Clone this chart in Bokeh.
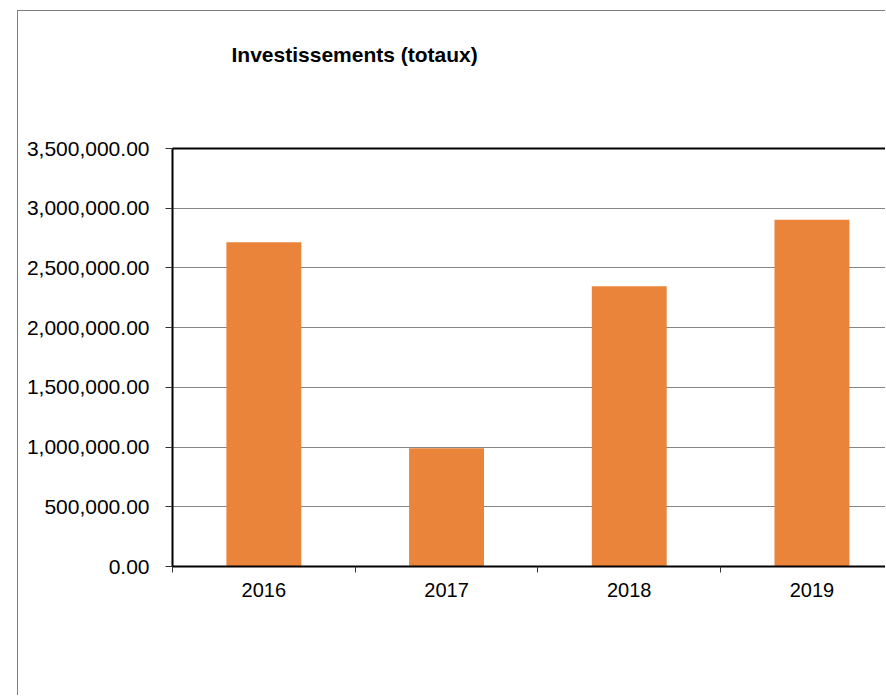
from bokeh.plotting import figure
from bokeh.models import Range1d, FixedTicker, NumeralTickFormatter, LinearAxis
from bokeh.embed import file_html
from bokeh.resources import INLINE

# ---- data ----
title_text = "Investissements (totaux)"
years = ["2016", "2017", "2018", "2019"]
totals = [2715000, 990000, 2347000, 2903000]
y_ticks = [0, 500000, 1000000, 1500000, 2000000, 2500000, 3000000, 3500000]

centers = [i + 0.5 for i in range(len(years))]
bounds = list(range(len(years) + 1))

W, H = 868, 685
p = figure(width=W, height=H, output_backend="svg", toolbar_location=None,
           x_range=Range1d(0, 3.908), y_range=Range1d(0, 3500000),
           min_border_left=154, min_border_right=0, min_border_top=137,
           min_border_bottom=130,
           styles={"border-left": "1px solid #7f7f7f", "border-top": "1px solid #7f7f7f",
                   "margin-left": "17px", "margin-top": "10px"})
p.background_fill_color = "white"
p.border_fill_color = "white"
p.outline_line_color = None

p.vbar(x=centers, top=totals, bottom=0, width=0.41,
       fill_color="#E9843A", line_color=None)

# x axis
xa = p.xaxis[0]
xa.ticker = FixedTicker(ticks=centers, minor_ticks=bounds)
xa.major_label_overrides = {c: y for c, y in zip(centers, years)}
xa.major_tick_out = 0
xa.major_tick_in = 0
xa.minor_tick_out = 6
xa.minor_tick_in = 0
xa.minor_tick_line_color = "#333333"
xa.axis_line_color = "black"
xa.axis_line_width = 2
xa.major_label_standoff = 10
xa.major_label_text_font = "Liberation Sans"
xa.major_label_text_font_size = "20px"
xa.major_label_text_color = "black"

# y axis
ya = p.yaxis[0]
ya.ticker = FixedTicker(ticks=y_ticks)
ya.formatter = NumeralTickFormatter(format="0,0.00")
ya.major_tick_out = 7
ya.major_tick_in = 0
ya.minor_tick_out = 0
ya.minor_tick_in = 0
ya.major_tick_line_color = "#333333"
ya.axis_line_color = "black"
ya.axis_line_width = 2
ya.major_label_standoff = 16
ya.major_label_text_font = "Liberation Sans"
ya.major_label_text_font_size = "21px"
ya.major_label_text_color = "black"

# top frame line (with a blank label used as spacing below the title)
top_axis = LinearAxis(ticker=FixedTicker(ticks=[]), axis_line_color="black",
                      axis_line_width=2, major_tick_out=0, major_tick_in=0,
                      minor_tick_out=0, minor_tick_in=0,
                      major_label_text_font_size="0px",
                      axis_label=" ", axis_label_text_font_size="1px",
                      axis_label_standoff=74)
p.add_layout(top_axis, "above")

p.xgrid.visible = False
p.ygrid.ticker = FixedTicker(ticks=y_ticks)
p.ygrid.grid_line_color = "#868686"
p.ygrid.grid_line_width = 1

p.title.text = title_text
p.title.align = "left"
p.title.offset = 59
p.title.text_font = "Liberation Sans"
p.title.text_font_size = "21px"
p.title.text_font_style = "bold"
p.title.text_color = "black"

open("out.html", "w").write(file_html(p, INLINE))
